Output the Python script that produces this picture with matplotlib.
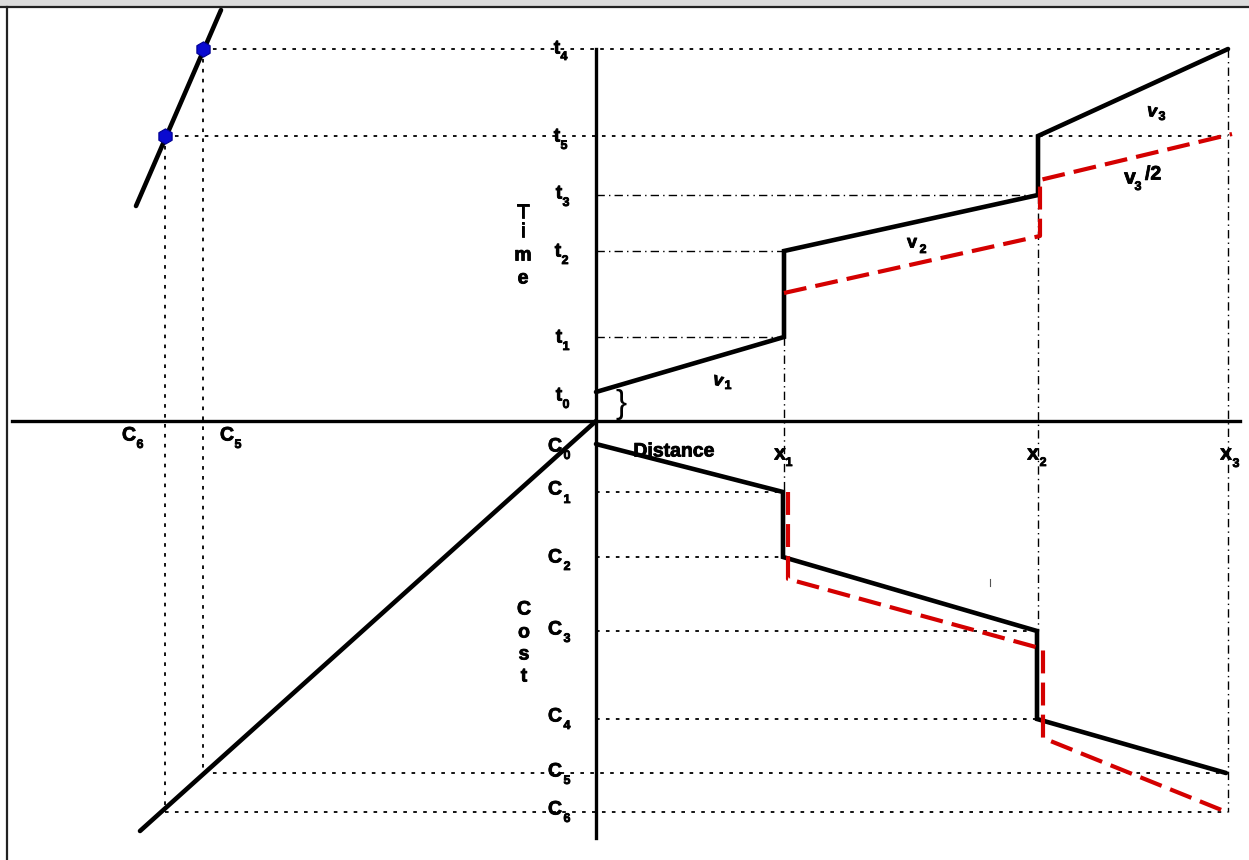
import numpy as np
import matplotlib
matplotlib.use('Agg')
import matplotlib.pyplot as plt
import matplotlib.patheffects as pe
from matplotlib.patches import Rectangle
from matplotlib.lines import Line2D

plt.rcParams['font.family'] = ['Liberation Sans', 'DejaVu Sans']

# distance marks (origin at axis crossing, units ~ pixels)
dist_x = [0, 188, 442, 632]          # 0, x1, x2, x3
# time levels
t_lvl = {'t0': 29, 't1': 84, 't2': 170, 't3': 226, 't5': 285, 't4': 372}
# cost levels (below the distance axis)
c_lvl = {'C0': -23, 'C1': -71, 'C2': -136, 'C3': -210, 'C4': -298, 'C5': -352, 'C6': -391}

# time-distance curve, solid
time_x = [0, 188, 188, 442, 442, 632]
time_y = [29, 84, 170, 226, 285, 372]
# time-distance curve with v3/2, red dashed
time2_x = [188, 444, 444, 636]
time2_y = [128, 185, 241, 287]

# cost-distance curve, solid
cost_x = [0, 187, 187, 441, 441, 630]
cost_y = [-23, -71, -136, -210, -298, -352]
# cost curve for the slower case, red dashed
cost2_x = [192, 192, 447, 447, 628]
cost2_y = [-71, -158, -228, -317, -390]

# cost mapping line (lower left) and time-cost line (upper left)
map_x = [0, -456]
map_y = [0, -410]
tc_x = [-375, -460]
tc_y = [411, 215]
# points where t4 / t5 hit the time-cost line
pts_x = [-393, -431]
pts_y = [372, 285]

# label text: (main, subscript, x, y, sub x, sub y)
t_labels = [('t', '4', -39, 372, -32, 364), ('t', '5', -39, 284, -32, 275),
            ('t', '3', -37, 227, -30, 218), ('t', '2', -38, 169, -31, 160),
            ('t', '1', -37, 83, -30, 74), ('t', '0', -37, 25, -30, 16)]
c_labels = [('C', '0', -41, -26, -29, -35), ('C', '1', -41, -69, -29, -79),
            ('C', '2', -41, -137, -29, -146), ('C', '3', -41, -209, -29, -218),
            ('C', '4', -41, -296, -29, -305), ('C', '5', -41, -351, -29, -360),
            ('C', '6', -41, -389, -29, -398),
            ('C', '6', -467, -15, -456, -24), ('C', '5', -369, -15, -358, -24)]
x_labels = [('x', '1', 184, -33, 193, -42), ('x', '2', 437, -33, 447, -42),
            ('x', '3', 630, -33, 640, -43)]
v_labels = [('v', '1', 122, 40, 132, 35), ('v', '2', 316, 178, 327, 171),
            ('v', '3', 556, 309, 566, 304), ('v', '3', 534, 243, 542, 234)]

fig = plt.figure(figsize=(12.49, 8.6), dpi=100)
ax = fig.add_axes([0, 0, 1, 1])
ax.set_xlim(-596, 653)
ax.set_ylim(-439, 421)
ax.axis('off')

# frame bits of the screenshot
fig.patches.append(Rectangle((0, 1 - 6 / 860), 1, 6 / 860, transform=fig.transFigure,
                             color='#dcdcdc', zorder=0))
fig.lines.append(Line2D([0, 1], [1 - 7 / 860] * 2, transform=fig.transFigure, color='#222222', lw=1.6))
fig.lines.append(Line2D([7 / 1249] * 2, [0, 1 - 7 / 860], transform=fig.transFigure, color='#222222', lw=1.6))

dot = dict(color='black', lw=1.3, linestyle=(0, (2, 3.5)))
dashdot = dict(color='black', lw=1.0, linestyle=(0, (6, 3, 1, 3)))

# guide lines
ax.plot([pts_x[0], dist_x[3]], [t_lvl['t4']] * 2, **dot)
ax.plot([pts_x[1], dist_x[3]], [t_lvl['t5']] * 2, **dot)
ax.plot([0, dist_x[2]], [t_lvl['t3']] * 2, **dashdot)
ax.plot([0, dist_x[1]], [t_lvl['t2']] * 2, **dashdot)
ax.plot([0, dist_x[1]], [t_lvl['t1']] * 2, **dashdot)
ax.plot([dist_x[1]] * 2, [t_lvl['t1'], c_lvl['C1']], **dashdot)
ax.plot([dist_x[2]] * 2, [t_lvl['t3'], c_lvl['C3']], **dashdot)
ax.plot([dist_x[3]] * 2, [t_lvl['t4'], c_lvl['C6']], **dashdot)
ax.plot([pts_x[0]] * 2, [pts_y[0], c_lvl['C5']], **dot)
ax.plot([pts_x[1]] * 2, [pts_y[1], c_lvl['C6']], **dot)
for key, xr in [('C1', dist_x[1]), ('C2', dist_x[1]), ('C3', dist_x[2]), ('C4', dist_x[2])]:
    ax.plot([0, xr], [c_lvl[key]] * 2, **dot)
ax.plot([pts_x[0], 630], [c_lvl['C5']] * 2, **dot)
ax.plot([pts_x[1], 632], [c_lvl['C6']] * 2, **dot)

# axes
ax.plot([-584, 644], [0, 0], color='black', lw=2.4)
ax.plot([0, 0], [t_lvl['t4'], -417], color='black', lw=2.4)

# curves
thick = dict(color='black', lw=3.3, solid_capstyle='round', solid_joinstyle='miter')
red = dict(color='#d40000', lw=3.0, linestyle=(0, (5.5, 2.2)))
ax.plot(time_x, time_y, **thick)
ax.plot(time2_x, time2_y, **red)
ax.plot(cost_x, cost_y, **thick)
ax.plot(cost2_x, cost2_y, **red)
ax.plot(map_x, map_y, **thick)
ax.plot(tc_x, tc_y, **thick)
ax.plot(pts_x, pts_y, 'h', ms=11, color='#0a0ad0', mec='#000090', mew=0.8, zorder=5)

# tiny stray tick
ax.plot([394, 394], [-158, -165], color='#555555', lw=0.8)

# labels, slightly heavier strokes like the original
heavy = [pe.withStroke(linewidth=0.6, foreground='black')]

def sublabel(main, s, x, y, sx, sy, size=14, ssize=9, rot=0):
    ax.text(x, y, main, fontsize=size, fontweight='bold', ha='center', va='center',
            rotation=rot, zorder=6, path_effects=heavy)
    ax.text(sx, sy, s, fontsize=ssize, fontweight='bold', ha='center', va='center',
            zorder=6, path_effects=heavy)

for lab in t_labels:
    sublabel(*lab, size=14)
for lab in c_labels:
    sublabel(*lab, size=14)
for lab in x_labels:
    sublabel(*lab, size=15)
sublabel(*v_labels[0], size=13, rot=-15)
sublabel(*v_labels[1], size=13)
sublabel(*v_labels[2], size=13, rot=-10)
sublabel(*v_labels[3], size=15)
ax.text(549, 246, '/2', fontsize=14, fontweight='bold', ha='left', va='center', path_effects=heavy)

for ch, yy in zip('Time', [208, 189, 165, 142]):
    ax.text(-73, yy, ch, fontsize=14, fontweight='bold', ha='center', va='center', path_effects=heavy)
for ch, yy in zip('Cost', [-189, -212, -234, -256]):
    ax.text(-72, yy, ch, fontsize=14, fontweight='bold', ha='center', va='center', path_effects=heavy)

ax.text(78, -31, 'Distance', fontsize=14, fontweight='bold', ha='center', va='center', path_effects=heavy)

ax.text(25, 16, '}', fontsize=24, ha='center', va='center')

fig.savefig('out.png', dpi=100)
